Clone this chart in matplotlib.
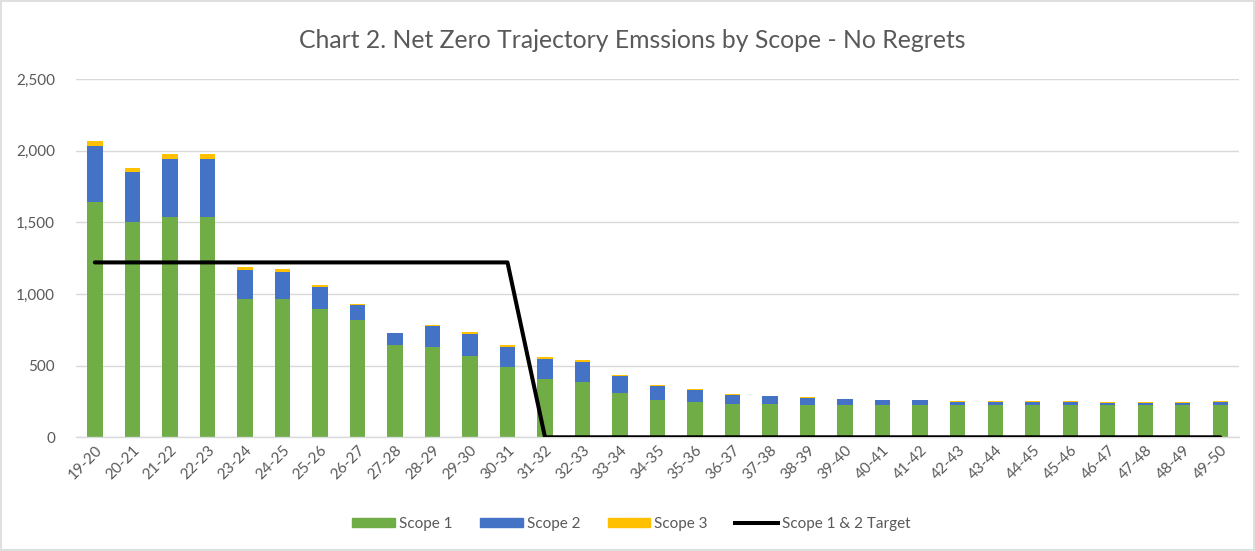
import matplotlib
matplotlib.use('Agg')
import matplotlib.pyplot as plt
import matplotlib.patches as mpatches
from matplotlib.lines import Line2D
import numpy as np

# ── Data ───────────────────────────────────────────────────────────────────────
years = ['19-20', '20-21', '21-22', '22-23', '23-24', '24-25', '25-26', '26-27',
         '27-28', '28-29', '29-30', '30-31', '31-32', '32-33', '33-34', '34-35',
         '35-36', '36-37', '37-38', '38-39', '39-40', '40-41', '41-42', '42-43',
         '43-44', '44-45', '45-46', '46-47', '47-48', '48-49', '49-50']

scope1 = [1644, 1505, 1538, 1538, 963, 963, 896, 821, 644, 630, 567, 489,
          407, 386, 311, 261, 249, 230, 230, 228, 228, 228, 228, 225,
          225, 225, 225, 225, 225, 225, 225]
scope2 = [389, 345, 402, 402, 203, 189, 153, 105, 82, 145, 154, 143,
          142, 137, 115, 100, 81, 65, 56, 49, 37, 30, 30, 24,
          24, 24, 24, 17, 17, 17, 20]
scope3 = [35, 32, 33, 33, 21, 21, 12, 7, 4, 9, 12, 12,
          11, 14, 7, 7, 5, 7, 5, 4, 5, 5, 5, 4,
          4, 4, 4, 4, 4, 4, 5]
target = [1220] * 12 + [0] * 19

# ── Style ──────────────────────────────────────────────────────────────────────
GREEN = '#70AD47'
BLUE = '#4472C4'
GOLD = '#FFC000'
TEXT = '#595959'
GRID = '#D9D9D9'
plt.rcParams['font.family'] = ['Lato', 'DejaVu Sans']

fig = plt.figure(figsize=(12.55, 5.51), dpi=100)
ax = fig.add_axes([0.0606, 0.2064, 0.9267, 0.6503])

x = np.arange(len(years))
s1 = np.array(scope1)
s2 = np.array(scope2)
s3 = np.array(scope3)
w = 0.41
ax.bar(x, s1, w, color=GREEN, zorder=2)
ax.bar(x, s2, w, bottom=s1, color=BLUE, zorder=2)
ax.bar(x, s3, w, bottom=s1 + s2, color=GOLD, zorder=2)
ax.plot(x, target, color='black', linewidth=2.9, solid_capstyle='round', zorder=3)

ax.set_xlim(-0.5, len(years) - 0.5)
ax.set_ylim(0, 2500)
ax.set_yticks(np.arange(0, 2501, 500))
ax.set_yticklabels([f'{v:,}' for v in range(0, 2501, 500)])
ax.set_xticks(x)
ax.set_xticklabels(years, rotation=45, ha='right', rotation_mode='anchor')
ax.tick_params(axis='both', length=0, colors=TEXT, labelsize=11)
ax.tick_params(axis='y', pad=15)
ax.tick_params(axis='x', pad=4)

ax.grid(axis='y', color=GRID, linewidth=1.0, zorder=0)
ax.set_axisbelow(True)
for s in ('left', 'right', 'top'):
    ax.spines[s].set_visible(False)
ax.spines['bottom'].set_color(GRID)
ax.spines['bottom'].set_linewidth(1.0)

fig.text(0.504, 0.927, 'Chart 2. Net Zero Trajectory Emssions by Scope - No Regrets',
         ha='center', va='center', fontsize=17.8, color=TEXT)

handles = [mpatches.Patch(color=GREEN, label='Scope 1'),
           mpatches.Patch(color=BLUE, label='Scope 2'),
           mpatches.Patch(color=GOLD, label='Scope 3'),
           Line2D([], [], color='black', linewidth=2.9, label='Scope 1 & 2 Target')]
leg = fig.legend(handles=handles, loc='center', bbox_to_anchor=(0.503, 0.049), ncol=4,
                 frameon=False, fontsize=11, handlelength=2.8, handleheight=0.5,
                 handletextpad=0.25, columnspacing=1.8)
for t in leg.get_texts():
    t.set_color(TEXT)

fig.patches.append(mpatches.Rectangle((0.001, 0.002), 0.998, 0.996, transform=fig.transFigure,
                                      fill=False, edgecolor=GRID, linewidth=1.2))

fig.savefig('out.png', dpi=100)
